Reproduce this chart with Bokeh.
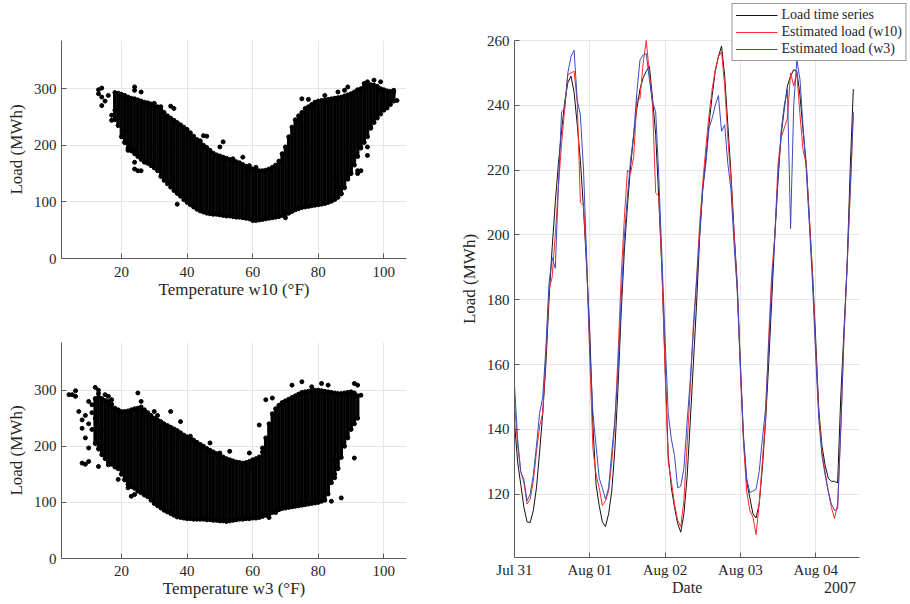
import pandas as pd
from bokeh.plotting import figure
from bokeh.layouts import row, column
from bokeh.models import (Range1d, FixedTicker, DatetimeTickFormatter, Legend,
                          LegendItem, LinearAxis, CustomJSTickFormatter)
from bokeh.embed import file_html
from bokeh.resources import INLINE

# ---------------- data: scatter w10 (dense band per integer temperature) ----------------
w10_temp = list(range(18, 104))
w10_upper = [293, 292, 290, 288, 285, 283, 282, 280, 278, 276, 275, 273, 274, 268, 263, 258,
             252, 248, 244, 240, 236, 232, 228, 222, 216, 210, 205, 200, 196, 191, 186, 183,
             181, 179, 177, 175, 173, 171, 169, 166, 163, 160, 158, 156, 155, 155, 156, 158,
             161, 165, 172, 185, 197, 215, 232, 245, 252, 258, 265, 268, 272, 275, 278, 279,
             280, 281, 282, 283, 284, 285, 287, 289, 291, 294, 297, 300, 303, 305, 307, 306,
             304, 300, 298, 296, 295, 294]
w10_lower = [245, 235, 215, 205, 195, 190, 185, 180, 175, 170, 168, 164, 160, 155, 145, 138,
             132, 126, 120, 115, 110, 104, 99, 95, 91, 87, 84, 82, 80, 79, 78, 78,
             77, 76, 75, 75, 74, 73, 73, 72, 71, 70, 67, 67, 68, 69, 70, 71,
             72, 73, 74, 76, 78, 80, 83, 86, 88, 90, 91, 92, 93, 94, 95, 96,
             97, 99, 101, 104, 108, 115, 125, 140, 150, 165, 180, 195, 205, 215, 230, 240,
             248, 255, 262, 266, 272, 278]
w10_out_temp = [13, 13, 14, 14, 14, 15, 16, 17, 17, 18, 19, 21, 21, 22, 24, 24, 24, 25, 26, 24,
                24, 26, 32, 35, 36, 37, 44, 45, 46, 50, 51, 54, 57, 59, 61, 70, 75, 77, 78, 79,
                82, 86, 88, 89, 92, 94, 95, 97, 99, 103, 104, 95, 95, 89, 92, 92, 93, 85, 86, 87, 96]
w10_out_load = [298, 291, 301, 285, 270, 278, 288, 244, 253, 262, 235, 226, 205, 191, 191, 170,
                158, 155, 155, 303, 297, 294, 268, 269, 265, 96, 208, 217, 216, 197, 206, 176,
                179, 164, 161, 72, 282, 281, 268, 276, 288, 294, 297, 303, 298, 309, 312, 315,
                312, 297, 279, 197, 182, 144, 155, 150, 155, 144, 126, 114, 232]

# ---------------- data: scatter w3 ----------------
w3_temp = list(range(12, 93))
w3_upper = [285, 288, 285, 282, 280, 275, 268, 265, 262, 262, 263, 265, 267, 268, 270, 265,
            260, 255, 250, 247, 244, 240, 237, 234, 231, 228, 224, 220, 217, 214, 211, 207,
            203, 200, 196, 193, 190, 187, 184, 181, 178, 176, 174, 172, 171, 170, 171, 173,
            176, 178, 181, 190, 215, 240, 258, 267, 273, 278, 281, 284, 287, 290, 293, 296,
            297, 298, 299, 300, 300, 299, 298, 297, 296, 295, 294, 294, 295, 296, 297, 295, 290]
w3_lower = [205, 195, 185, 178, 172, 168, 163, 160, 150, 140, 132, 128, 125, 120, 117, 113,
            110, 104, 98, 94, 90, 86, 83, 80, 77, 74, 73, 72, 71, 71, 70, 70,
            70, 70, 69, 69, 68, 68, 67, 67, 66, 67, 68, 69, 70, 70, 71, 71,
            72, 72, 73, 75, 77, 79, 82, 85, 87, 89, 90, 91, 92, 93, 94, 95,
            96, 97, 98, 99, 100, 102, 104, 115, 135, 150, 160, 180, 200, 215, 230, 240, 250]
w3_out_temp = [4, 5, 6, 6, 7, 8, 8, 8, 9, 10, 10, 11, 11, 12, 13, 13, 13, 14, 15, 16, 16, 17,
               19, 21, 22, 23, 24, 25, 26, 30, 31, 35, 38, 41, 44, 47, 50, 53, 56, 59, 60, 62,
               63, 64, 66, 72, 75, 78, 81, 83, 85, 86, 87, 84, 91, 92, 93, 91, 85, 65, 67,
               9, 10, 11, 9, 10, 12]
w3_out_load = [292, 292, 299, 289, 262, 247, 232, 170, 168, 173, 197, 274, 230, 305, 300, 164,
               294, 227, 292, 289, 167, 283, 141, 141, 126, 111, 114, 295, 280, 262, 255, 262,
               244, 218, 203, 206, 188, 191, 170, 188, 161, 238, 197, 283, 286, 309, 315, 306,
               312, 309, 176, 161, 108, 102, 312, 309, 291, 179, 144, 73, 82,
               255, 240, 260, 215, 280, 250]

# ---------------- data: hourly time series from 2007-07-31 00:00 ----------------
load_actual = [142, 130, 123, 116, 111.5, 111.3, 115, 122, 133, 145, 160, 180, 196, 210, 222, 232,
               241, 247, 249, 244, 234, 223, 208, 190,
               170, 141, 123, 116.5, 111.5, 110, 114, 121, 134, 153, 176, 195, 209, 221, 231, 239,
               245, 248.5, 250.5, 252, 242, 231, 211, 189,
               160, 132, 122, 116, 111, 108.3, 114, 125, 142, 160, 178, 199, 214, 224, 234, 243,
               250.5, 255, 258.3, 249, 234, 219, 201, 185,
               160, 137, 124, 119, 114, 112.7, 117, 128, 142, 160, 180, 200, 217, 231, 239, 246,
               249, 251, 250.5, 243, 232, 222, 205, 188,
               168, 146, 135, 129, 125, 124, 124, 123.5, 150, 170, 190, 220, 245]
load_est_w10 = [148, 135, 127, 123.5, 117, 118.5, 124, 133, 141, 145, 163, 183, 187, 200, 215, 228,
                239, 249.5, 250, 250.5, 241, 210, 209, 192,
                162, 134, 126, 122, 116.5, 118, 121, 130, 142, 163, 187, 205, 220, 219, 224, 242,
                242, 253, 260, 250, 240, 213, 212, 190,
                158, 130, 124, 117, 112, 110, 118, 135, 152, 172, 186, 203, 216, 227, 237, 245,
                251, 255, 256.5, 246, 230, 217, 200, 183,
                158, 136, 121, 115, 113, 107.5, 117, 130, 143, 168, 188, 200, 222, 230, 233, 236,
                250, 246, 250, 237, 226, 222, 205, 188,
                165, 145, 133, 127, 121, 116, 112.5, 117, 140, 168, 190, 212, 237]
load_est_w3 = [153.6, 137, 127, 124.5, 118, 120, 126, 135, 145, 150, 165, 185, 193, 189.7, 215, 238,
               239, 250, 255, 257, 241.5, 237, 220, 193,
               165, 145, 135, 125, 122, 118.5, 122, 133, 143, 158, 180, 199, 212, 223, 231, 244,
               254, 255.5, 256, 248, 241, 238, 218, 193,
               168, 145, 137, 132, 122, 122.5, 128, 142, 155, 170, 185, 200, 214, 222, 233, 236,
               240, 243, 232, 234, 222, 214, 197, 183,
               160, 138, 125, 120.5, 121, 121.5, 127, 137, 146, 165, 185, 200, 218, 232, 240, 245,
               202, 240, 254, 248, 233, 220, 203, 185,
               163, 143, 132, 126, 121, 117, 115, 115.5, 140, 168, 190, 214, 238]
series_labels = ["Load time series", "Estimated load (w10)", "Estimated load (w3)"]
date_ticks = ["2007-07-31", "2007-08-01", "2007-08-02", "2007-08-03", "2007-08-04"]
x_start = pd.Timestamp("2007-07-31 00:00")
x_end = pd.Timestamp("2007-08-04 14:04")
y_low, y_high = 100.5, 260

# ---------------- styling ----------------
FONT = "Liberation Serif"
TXT = "#262626"
AXC = "#5a5a5a"
GRID = "#e6e6e6"


def style(p, xstand=7):
    p.outline_line_color = None
    p.background_fill_color = "white"
    p.border_fill_color = "white"
    for ax in (p.xaxis[0], p.yaxis[0]):
        ax.axis_line_color = AXC
        ax.axis_line_width = 1
        ax.major_tick_line_color = AXC
        ax.major_tick_in = 5
        ax.major_tick_out = 0
        ax.minor_tick_line_color = None
        ax.major_label_text_font = FONT
        ax.major_label_text_font_size = "15px"
        ax.major_label_text_color = TXT
        ax.axis_label_text_font = FONT
        ax.axis_label_text_font_size = "17px"
        ax.axis_label_text_font_style = "normal"
        ax.axis_label_text_color = TXT
    p.xaxis[0].major_label_standoff = xstand
    p.xaxis[0].axis_label_standoff = 0
    p.yaxis[0].major_label_standoff = 5
    p.yaxis[0].axis_label_standoff = 5
    p.grid.grid_line_color = GRID
    p.grid.grid_line_width = 1


def scatter_fig(height, top, bottom, temps, upper, lower, out_t, out_v, xlabel, xstand):
    p = figure(width=428, height=height, x_range=Range1d(1.72, 106.9), y_range=Range1d(0, 385),
               output_backend="svg", toolbar_location=None,
               min_border_left=61, min_border_right=22, min_border_top=top,
               min_border_bottom=bottom)
    p.vbar(x=temps, bottom=lower, top=upper, width=0.8, color="black")
    p.scatter(x=temps, y=upper, size=4, color="black")
    p.scatter(x=temps, y=lower, size=4, color="black")
    p.scatter(x=out_t, y=out_v, size=4, color="black")
    p.xaxis.ticker = FixedTicker(ticks=[20, 40, 60, 80, 100])
    p.yaxis.ticker = FixedTicker(ticks=[0, 100, 200, 300])
    p.yaxis.axis_label = "Load (MWh)"
    p.xaxis.axis_label = xlabel
    style(p, xstand)
    return p


f1 = scatter_fig(302, 40, 44, w10_temp, w10_upper, w10_lower, w10_out_temp, w10_out_load,
                 "Temperature w10 (°F)", 8)
f2 = scatter_fig(301, 40, 45, w3_temp, w3_upper, w3_lower, w3_out_temp, w3_out_load,
                 "Temperature w3 (°F)", 7)

# ---------------- time series ----------------
F3_W, F3_H = 481, 604
B_LEFT, B_BOTTOM = 86, 47
frame_w = F3_W - B_LEFT
frame_h = F3_H - B_BOTTOM
real_w = 345.3          # px the real axis box spans horizontally
real_top_off = 40       # px between canvas top and the real axis box top
span = x_end - x_start
x_end_ext = x_start + span * (frame_w / real_w)
y_high_ext = y_high + (y_high - y_low) * real_top_off / (frame_h - real_top_off)

times = pd.date_range(x_start, periods=len(load_actual), freq="h")
f3 = figure(width=F3_W, height=F3_H, x_axis_type="datetime",
            x_range=Range1d(x_start, x_end_ext), y_range=Range1d(y_low, y_high_ext),
            output_backend="svg", toolbar_location=None,
            min_border_left=B_LEFT, min_border_right=0, min_border_top=0,
            min_border_bottom=B_BOTTOM)
# white masks hide the grid outside the real axes box (legend sits partly there)
f3.quad(left=x_start, right=x_end_ext, bottom=y_high + 0.2, top=y_high_ext + 5,
        fill_color="white", line_color=None)
f3.quad(left=x_end, right=x_end_ext, bottom=y_low - 5, top=y_high_ext + 5,
        fill_color="white", line_color=None)
r0 = f3.line(times, load_actual, color="#111111", line_width=1)
r1 = f3.line(times, load_est_w10, color="#ff2a2a", line_width=1)
r2 = f3.line(times, load_est_w3, color="#3a4cc0", line_width=1)
tick_ms = [pd.Timestamp(d).value // 10**6 for d in date_ticks]
f3.xaxis.ticker = FixedTicker(ticks=tick_ms)
f3.xaxis.formatter = DatetimeTickFormatter(days="%b %d", hours="%b %d", months="%b %d",
                                           minutes="%b %d", years="%b %d")
f3.xaxis.bounds = (x_start, x_end)
f3.yaxis.ticker = FixedTicker(ticks=[120, 140, 160, 180, 200, 220, 240, 260])
f3.yaxis.bounds = (y_low, y_high)
f3.yaxis.axis_label = "Load (MWh)"
style(f3, xstand=4)

# second row under the date ticks: "Date" (centred) and the year at the right
date_mid = x_start + span / 2
year_pos = x_start + span * ((839.5 - 514) / real_w)
mid_ms = date_mid.value // 10**6
year_ms = year_pos.value // 10**6
ax2 = LinearAxis(ticker=FixedTicker(ticks=[mid_ms, year_ms]),
                 formatter=CustomJSTickFormatter(args=dict(split=(mid_ms + year_ms) / 2),
                                                 code="return tick < split ? 'Date' : '2007';"))
ax2.axis_line_color = None
ax2.major_tick_line_color = None
ax2.minor_tick_line_color = None
ax2.major_tick_in = 0
ax2.major_tick_out = 0
ax2.major_label_standoff = -2
ax2.major_label_text_font = FONT
ax2.major_label_text_font_size = "16px"
ax2.major_label_text_color = TXT
f3.add_layout(ax2, "below")

legend = Legend(items=[LegendItem(label=series_labels[0], renderers=[r0]),
                       LegendItem(label=series_labels[1], renderers=[r1]),
                       LegendItem(label=series_labels[2], renderers=[r2])],
                location="top_right")
legend.background_fill_color = "white"
legend.background_fill_alpha = 1
legend.border_line_color = "#333333"
legend.border_line_width = 1
legend.label_text_font = FONT
legend.label_text_font_size = "14px"
legend.label_text_color = TXT
legend.glyph_width = 42
legend.glyph_height = 16
legend.label_height = 16
legend.spacing = 1
legend.padding = 3
legend.margin = 3
legend.label_standoff = 4
f3.add_layout(legend)

layout = row(column(f1, f2), f3)
open("out.html", "w").write(file_html(layout, INLINE))
